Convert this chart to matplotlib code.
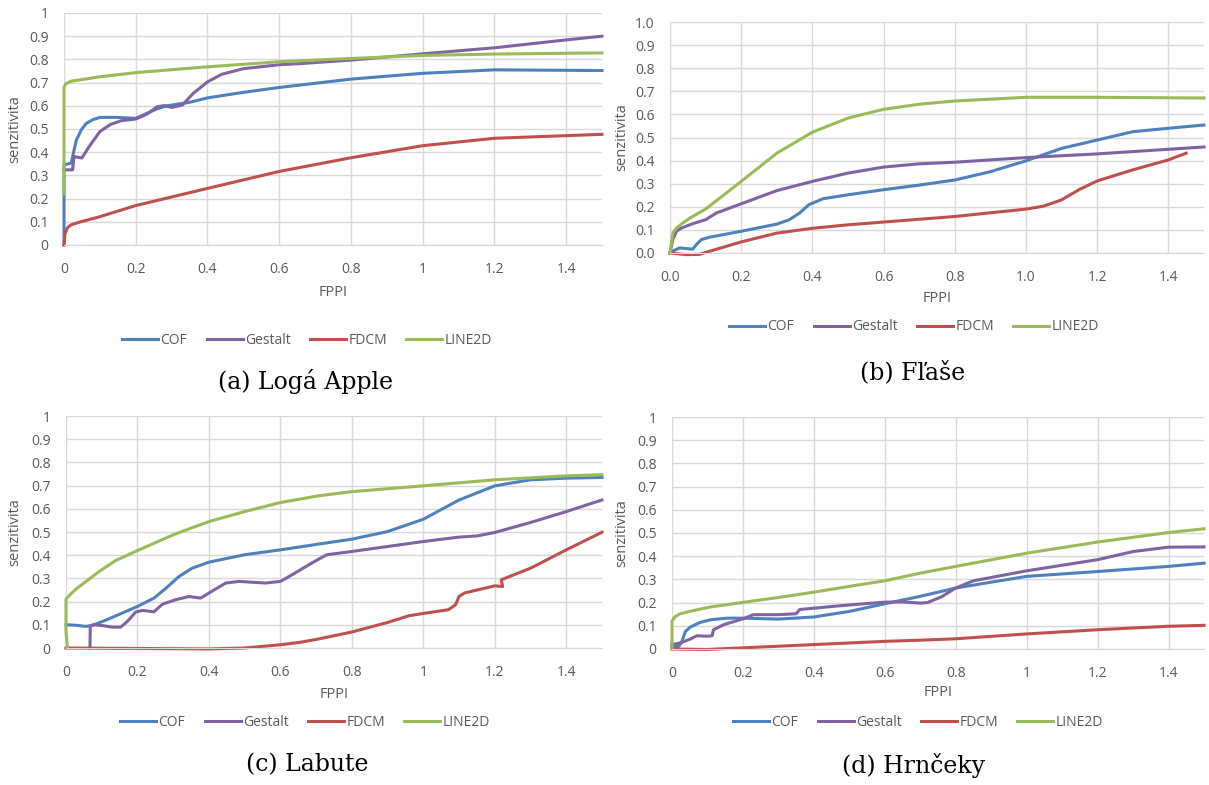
import numpy as np
import matplotlib
matplotlib.use('Agg')
import matplotlib.pyplot as plt

# farby ako v Exceli
c_cof = '#4F81BD'
c_gestalt = '#8064A2'
c_fdcm = '#C0504D'
c_line2d = '#9BBB59'
sivá = '#595959'
mriežka = '#D9D9D9'

plt.rcParams['font.family'] = ['Open Sans', 'DejaVu Sans']

nazvy = ['COF', 'Gestalt', 'FDCM', 'LINE2D']

# (a) Logá Apple
a_cof_x = [0, 0, 0.02, 0.034, 0.048, 0.062, 0.08, 0.1, 0.146, 0.2, 0.22, 0.258, 0.286, 0.3, 0.35, 0.4, 0.5, 0.6, 0.8, 1.0, 1.2, 1.5]
a_cof_y = [0, 0.345, 0.353, 0.45, 0.496, 0.524, 0.54, 0.55, 0.55, 0.546, 0.56, 0.586, 0.6, 0.603, 0.615, 0.634, 0.658, 0.679, 0.715, 0.74, 0.755, 0.752]
a_ges_x = [0, 0.024, 0.028, 0.05, 0.07, 0.1, 0.13, 0.16, 0.2, 0.23, 0.26, 0.28, 0.3, 0.33, 0.36, 0.4, 0.44, 0.5, 0.6, 0.66, 0.8, 1.0, 1.2, 1.4, 1.5]
a_ges_y = [0.324, 0.324, 0.381, 0.375, 0.424, 0.489, 0.52, 0.536, 0.543, 0.563, 0.596, 0.601, 0.593, 0.603, 0.653, 0.703, 0.736, 0.76, 0.777, 0.782, 0.797, 0.824, 0.85, 0.884, 0.9]
a_fdcm_x = [0, 0.003, 0.01, 0.02, 0.044, 0.1, 0.2, 0.3, 0.4, 0.6, 0.8, 1.0, 1.2, 1.5]
a_fdcm_y = [0, 0.05, 0.075, 0.087, 0.099, 0.122, 0.17, 0.207, 0.244, 0.317, 0.376, 0.428, 0.46, 0.477]
a_line_x = [0, 0, 0.005, 0.02, 0.1, 0.2, 0.4, 0.6, 0.8, 1.0, 1.2, 1.5]
a_line_y = [0.22, 0.68, 0.695, 0.706, 0.725, 0.743, 0.768, 0.79, 0.804, 0.817, 0.823, 0.828]

# (b) Fľaše
b_cof_x = [0, 0.013, 0.027, 0.046, 0.064, 0.074, 0.088, 0.11, 0.2, 0.3, 0.335, 0.364, 0.39, 0.43, 0.5, 0.6, 0.7, 0.8, 0.9, 1.0, 1.1, 1.2, 1.3, 1.4, 1.5]
b_cof_y = [0, 0.012, 0.022, 0.019, 0.017, 0.036, 0.058, 0.068, 0.094, 0.125, 0.144, 0.173, 0.209, 0.235, 0.252, 0.274, 0.294, 0.316, 0.352, 0.399, 0.453, 0.489, 0.525, 0.54, 0.554]
b_ges_x = [0, 0.008, 0.018, 0.032, 0.064, 0.1, 0.13, 0.2, 0.3, 0.4, 0.5, 0.6, 0.7, 0.8, 1.0, 1.2, 1.4, 1.5]
b_ges_y = [0, 0.058, 0.094, 0.108, 0.127, 0.144, 0.173, 0.213, 0.27, 0.31, 0.346, 0.372, 0.386, 0.393, 0.413, 0.429, 0.449, 0.459]
b_fdcm_x = [0, 0.046, 0.083, 0.11, 0.2, 0.3, 0.4, 0.5, 0.6, 0.7, 0.8, 0.9, 1.0, 1.05, 1.1, 1.15, 1.2, 1.3, 1.4, 1.45]
b_fdcm_y = [0, -0.007, -0.006, 0.007, 0.048, 0.086, 0.107, 0.122, 0.134, 0.146, 0.158, 0.174, 0.19, 0.203, 0.23, 0.275, 0.312, 0.36, 0.403, 0.432]
b_line_x = [0, 0.008, 0.018, 0.036, 0.06, 0.1, 0.2, 0.3, 0.4, 0.5, 0.6, 0.7, 0.8, 1.0, 1.2, 1.4, 1.5]
b_line_y = [0, 0.086, 0.108, 0.13, 0.155, 0.19, 0.31, 0.432, 0.523, 0.584, 0.622, 0.644, 0.658, 0.674, 0.674, 0.672, 0.671]

# (c) Labute
c_cof_x = [0, 0.028, 0.056, 0.074, 0.11, 0.158, 0.2, 0.246, 0.28, 0.316, 0.353, 0.4, 0.5, 0.6, 0.707, 0.8, 0.9, 1.0, 1.1, 1.2, 1.3, 1.4, 1.5]
c_cof_y = [0.1, 0.098, 0.093, 0.098, 0.119, 0.151, 0.179, 0.215, 0.258, 0.308, 0.344, 0.37, 0.402, 0.423, 0.448, 0.469, 0.502, 0.555, 0.638, 0.699, 0.725, 0.732, 0.735]
c_ges_x = [0.067, 0.068, 0.075, 0.1, 0.13, 0.153, 0.172, 0.195, 0.214, 0.246, 0.27, 0.307, 0.344, 0.377, 0.4, 0.447, 0.484, 0.558, 0.6, 0.633, 0.68, 0.707, 0.73, 0.8, 1.0, 1.1, 1.15, 1.2, 1.3, 1.4, 1.5]
c_ges_y = [0, 0.093, 0.1, 0.097, 0.09, 0.09, 0.115, 0.155, 0.162, 0.156, 0.189, 0.208, 0.222, 0.215, 0.237, 0.28, 0.287, 0.28, 0.287, 0.316, 0.359, 0.383, 0.402, 0.416, 0.459, 0.478, 0.483, 0.498, 0.541, 0.588, 0.638]
c_fdcm_x = [0, 0.2, 0.3, 0.4, 0.5, 0.6, 0.653, 0.707, 0.8, 0.9, 0.96, 1.0, 1.07, 1.09, 1.1, 1.115, 1.2, 1.222, 1.218, 1.3, 1.4, 1.5]
c_fdcm_y = [0, -0.002, -0.003, -0.004, 0.0, 0.014, 0.024, 0.039, 0.069, 0.11, 0.139, 0.149, 0.165, 0.186, 0.222, 0.237, 0.268, 0.265, 0.294, 0.344, 0.423, 0.499]
c_line_x = [0.004, 0, 0, 0.01, 0.028, 0.056, 0.093, 0.14, 0.2, 0.3, 0.4, 0.5, 0.6, 0.707, 0.8, 1.0, 1.2, 1.4, 1.5]
c_line_y = [0, 0.07, 0.211, 0.228, 0.254, 0.287, 0.33, 0.378, 0.42, 0.488, 0.545, 0.588, 0.627, 0.656, 0.674, 0.699, 0.725, 0.742, 0.747]

# (d) Hrnčeky
d_cof_x = [0, 0.019, 0.028, 0.038, 0.052, 0.08, 0.108, 0.155, 0.2, 0.3, 0.4, 0.5, 0.6, 0.7, 0.8, 1.0, 1.2, 1.4, 1.5]
d_cof_y = [0.01, 0.011, 0.033, 0.076, 0.095, 0.115, 0.126, 0.133, 0.133, 0.129, 0.138, 0.162, 0.195, 0.227, 0.263, 0.313, 0.334, 0.356, 0.37]
d_ges_x = [0, 0.023, 0.052, 0.07, 0.099, 0.113, 0.117, 0.146, 0.2, 0.23, 0.3, 0.35, 0.36, 0.4, 0.5, 0.6, 0.65, 0.7, 0.72, 0.76, 0.8, 0.85, 1.0, 1.2, 1.3, 1.4, 1.5]
d_ges_y = [0.019, 0.026, 0.043, 0.057, 0.055, 0.057, 0.083, 0.105, 0.13, 0.148, 0.148, 0.152, 0.17, 0.176, 0.19, 0.202, 0.203, 0.198, 0.2, 0.225, 0.263, 0.294, 0.337, 0.385, 0.42, 0.439, 0.44]
d_fdcm_x = [0, 0.1, 0.2, 0.4, 0.6, 0.7, 0.8, 1.0, 1.2, 1.4, 1.5]
d_fdcm_y = [0, -0.002, 0.005, 0.019, 0.033, 0.038, 0.044, 0.065, 0.083, 0.098, 0.102]
d_line_x = [0, 0, 0.009, 0.023, 0.061, 0.108, 0.2, 0.3, 0.4, 0.5, 0.6, 0.7, 0.8, 1.0, 1.2, 1.4, 1.5]
d_line_y = [0, 0.12, 0.14, 0.152, 0.166, 0.181, 0.201, 0.222, 0.245, 0.27, 0.294, 0.327, 0.356, 0.413, 0.461, 0.502, 0.518]

popisky_y = ['0', '0.1', '0.2', '0.3', '0.4', '0.5', '0.6', '0.7', '0.8', '0.9', '1']
popisky_y_b = ['0.0', '0.1', '0.2', '0.3', '0.4', '0.5', '0.6', '0.7', '0.8', '0.9', '1.0']
popisky_x = ['0', '0.2', '0.4', '0.6', '0.8', '1', '1.2', '1.4']
popisky_x_b = ['0.0', '0.2', '0.4', '0.6', '0.8', '1.0', '1.2', '1.4']


def graf(ax, serie, lx, ly):
    for (x, y), farba, nazov in zip(serie, [c_cof, c_gestalt, c_fdcm, c_line2d], nazvy):
        ax.plot(x, y, color=farba, lw=2.2, label=nazov, solid_joinstyle='round', clip_on=False)
    ax.set_xlim(0, 1.5)
    ax.set_ylim(0, 1)
    ax.set_xticks(np.arange(0, 1.5, 0.2))
    ax.set_xticklabels(lx)
    ax.set_yticks(np.arange(0, 1.01, 0.1))
    ax.set_yticklabels(ly)
    ax.grid(True, color=mriežka, lw=1)
    ax.set_axisbelow(True)
    for s in ['top', 'right', 'left']:
        ax.spines[s].set_visible(False)
    ax.spines['bottom'].set_color(mriežka)
    ax.tick_params(length=0, colors=sivá, labelsize=10)
    ax.tick_params(axis='y', pad=11)
    ax.tick_params(axis='x', pad=12)


fig = plt.figure(figsize=(12.09, 7.85), dpi=100)
W, H = 1209, 785

panely = [
    ((64, 245, 602, 13), [(a_cof_x, a_cof_y), (a_ges_x, a_ges_y), (a_fdcm_x, a_fdcm_y), (a_line_x, a_line_y)],
     popisky_x, popisky_y, 15, 293, (307, 340), (306, 381), '(a) Logá Apple'),
    ((670, 253, 1204, 22), [(b_cof_x, b_cof_y), (b_ges_x, b_ges_y), (b_fdcm_x, b_fdcm_y), (b_line_x, b_line_y)],
     popisky_x_b, popisky_y_b, 622, 299, (914, 327), (913, 372), '(b) Fľaše'),
    ((66, 648, 602, 416), [(c_cof_x, c_cof_y), (c_ges_x, c_ges_y), (c_fdcm_x, c_fdcm_y), (c_line_x, c_line_y)],
     popisky_x, popisky_y, 15, 695, (305, 722), (307, 765), '(c) Labute'),
    ((672, 649, 1204, 417), [(d_cof_x, d_cof_y), (d_ges_x, d_ges_y), (d_fdcm_x, d_fdcm_y), (d_line_x, d_line_y)],
     popisky_x, popisky_y, 622, 693, (918, 722), (914, 765), '(d) Hrnčeky'),
]

for (x0, y0, x1, y1), serie, lx, ly, ylab_x, fppi_y, leg, cap, nadpis in panely:
    ax = fig.add_axes([x0 / W, 1 - y0 / H, (x1 - x0) / W, (y0 - y1) / H])
    graf(ax, serie, lx, ly)
    fig.text(ylab_x / W, 1 - (y0 + y1) / 2 / H, 'senzitivita', rotation=90, ha='center', va='center',
             color=sivá, fontsize=10.5)
    fig.text((x0 + x1) / 2 / W, 1 - fppi_y / H, 'FPPI', ha='center', va='center', color=sivá, fontsize=10.5)
    fig.legend(*ax.get_legend_handles_labels(), loc='center', bbox_to_anchor=(leg[0] / W, 1 - leg[1] / H),
               ncol=4, frameon=False, fontsize=10, handlelength=2.6, handletextpad=0.15,
               columnspacing=1.4, labelcolor=sivá)
    fig.text(cap[0] / W, 1 - cap[1] / H, nadpis, ha='center', va='center', fontsize=17,
             family='DejaVu Serif')

fig.savefig('out.png', dpi=100)
